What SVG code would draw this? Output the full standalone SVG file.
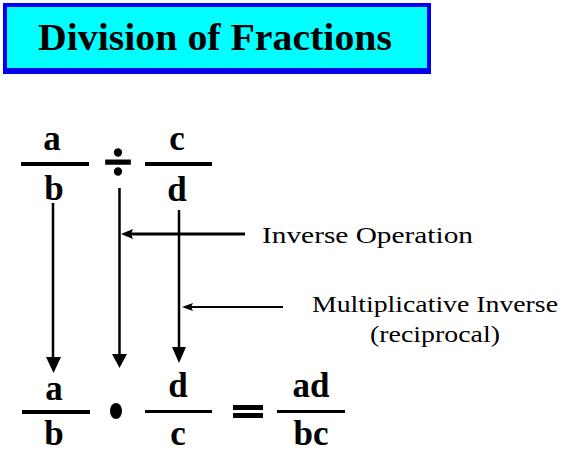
<svg xmlns="http://www.w3.org/2000/svg" width="562" height="452" viewBox="0 0 562 452">
<style>
.frac{font-family:"Liberation Serif","Times New Roman",serif;font-weight:bold;font-size:35px;fill:#000;text-anchor:middle}
.lbl{font-family:"Liberation Serif","Times New Roman",serif;font-size:24px;fill:#000}
.bar{fill:#000}
.vline{stroke:#000;stroke-width:2.5;fill:none}
.head{fill:#000}
</style>
<rect width="562" height="452" fill="#fff"/>
<g id="title">
<rect x="3" y="3" width="428" height="71" fill="#0000ee"/>
<rect x="7" y="7" width="420" height="61" fill="#00ffff"/>
<text x="215" y="50" text-anchor="middle" textLength="354" lengthAdjust="spacingAndGlyphs" style="font-family:'Liberation Serif','Times New Roman',serif;font-weight:bold;font-size:38px">Division of Fractions</text>
</g>
<g id="frac-ab-top">
<text class="frac" x="52" y="150">a</text>
<rect class="bar" x="21" y="162" width="68" height="4"/>
<text class="frac" x="54" y="200">b</text>
</g>
<g id="divide">
<text class="frac" x="118" y="180" stroke="#000" stroke-width="1.5" style="font-size:52px">÷</text>
</g>
<g id="frac-cd-top">
<text class="frac" x="177" y="150">c</text>
<rect class="bar" x="145" y="162" width="67" height="4"/>
<text class="frac" x="177" y="201">d</text>
</g>
<g id="label-inverse-op">
<text class="lbl" x="262" y="243" textLength="211" lengthAdjust="spacingAndGlyphs">Inverse Operation</text>
</g>
<g id="label-mult-inverse">
<text class="lbl" x="312" y="312" textLength="246" lengthAdjust="spacingAndGlyphs">Multiplicative Inverse</text>
<text class="lbl" x="370" y="342" textLength="130" lengthAdjust="spacingAndGlyphs">(reciprocal)</text>
</g>
<g id="frac-ab-bottom">
<text class="frac" x="54" y="400">a</text>
<rect class="bar" x="22" y="410" width="68" height="4"/>
<text class="frac" x="54" y="445">b</text>
</g>
<g id="times">
<ellipse cx="116" cy="411" rx="6" ry="8" fill="#000"/>
</g>
<g id="frac-dc-bottom">
<text class="frac" x="178" y="397">d</text>
<rect class="bar" x="145" y="410" width="67" height="3"/>
<text class="frac" x="178" y="445">c</text>
</g>
<g id="equals">
<rect class="bar" x="233" y="405" width="30" height="5"/>
<rect class="bar" x="233" y="413" width="30" height="5"/>
</g>
<g id="frac-adbc">
<text class="frac" x="311" y="397">ad</text>
<rect class="bar" x="277" y="410" width="68" height="3"/>
<text class="frac" x="311" y="445">bc</text>
</g>
<g id="connectors">
<line class="vline" x1="53" y1="203" x2="53" y2="360"/>
<polygon class="head" points="46,357 61,357 53.5,373"/>
<line class="vline" x1="119.5" y1="188" x2="119.5" y2="356"/>
<polygon class="head" points="112,354 127,354 119.5,368"/>
<line class="vline" x1="179" y1="210" x2="179" y2="350"/>
<polygon class="head" points="172,347 186,347 179,363"/>
<line x1="245" y1="234" x2="128" y2="234" stroke="#000" stroke-width="3"/>
<polygon class="head" points="121,234 133,229 131,234 133,239"/>
<line x1="283" y1="307" x2="188" y2="307" stroke="#000" stroke-width="2"/>
<polygon class="head" points="182,307 193,303 191,307 193,311"/>
</g>
</svg>
